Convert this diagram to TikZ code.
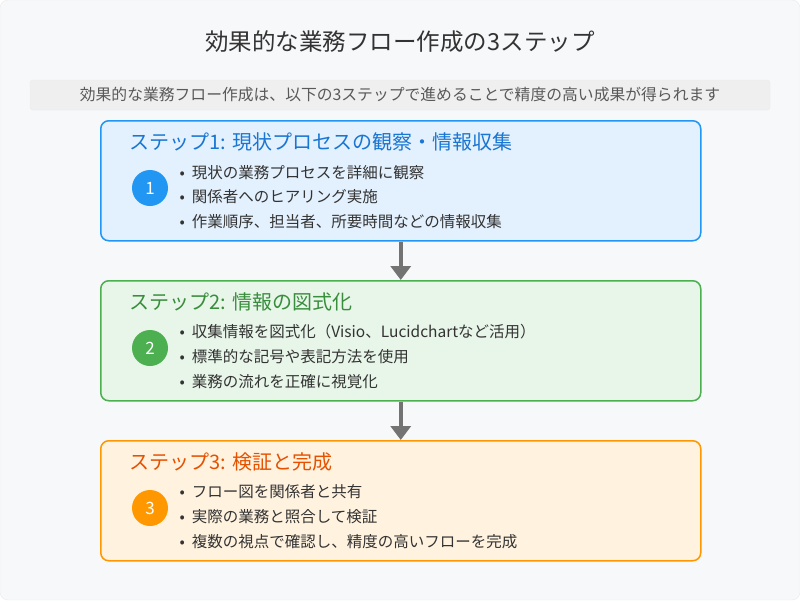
\documentclass[tikz,border=0pt]{standalone}
\usepackage{fontspec}
\setmainfont{Noto Sans CJK JP}
\usetikzlibrary{arrows.meta}
\definecolor{bgc}{HTML}{F7F8FA}
\definecolor{subc}{HTML}{EFEFEF}
\definecolor{b1f}{HTML}{E3F0FD}\definecolor{b1d}{HTML}{2196F3}\definecolor{b1t}{HTML}{1976D2}
\definecolor{b2f}{HTML}{E8F5E9}\definecolor{b2d}{HTML}{4CAF50}\definecolor{b2t}{HTML}{388E3C}
\definecolor{b3f}{HTML}{FFF3E0}\definecolor{b3d}{HTML}{FF9800}\definecolor{b3t}{HTML}{E65100}
\definecolor{txt}{HTML}{333333}
\begin{document}
\begin{tikzpicture}[x=1pt,y=-1pt,
  stepbox/.style={draw,line width=1.5pt,rounded corners=8pt,minimum width=600pt,minimum height=120pt,anchor=north west},
  ttl/.style={anchor=west,font=\fontsize{20}{22}\selectfont},
  num/.style={circle,minimum size=36pt,inner sep=0,text=white,font=\fontsize{17}{18}\selectfont},
  bl/.style={anchor=west,text=txt,font=\fontsize{15.5}{17}\selectfont},
  arr/.style={draw=gray!90!black,line width=3.5pt,-{Triangle[length=14pt,width=20pt]}}]
\useasboundingbox (0,0) rectangle (800,600);
\fill[bgc,draw=black!8,rounded corners=8pt] (0,0) rectangle (800,600);
\node[text=txt,font=\fontsize{23.5}{26}\selectfont] (title) at (400,42) {効果的な業務フロー作成の3ステップ};
\node[fill=subc,draw=black!8,rounded corners=3pt,minimum width=740pt,minimum height=30pt,text=black!65,font=\fontsize{15.8}{17}\selectfont] (sub) at (400,95) {効果的な業務フロー作成は、以下の3ステップで進めることで精度の高い成果が得られます};
\node[stepbox,fill=b1f,draw=b1d] (s1) at (100,120) {};
\node[stepbox,fill=b2f,draw=b2d] (s2) at (100,280) {};
\node[stepbox,fill=b3f,draw=b3d] (s3) at (100,440) {};
\node[ttl,text=b1t] (t1) at (126,142) {ステップ1: 現状プロセスの観察・情報収集};
\node[ttl,text=b2t] (t2) at (126,302) {ステップ2: 情報の図式化};
\node[ttl,text=b3t] (t3) at (126,462) {ステップ3: 検証と完成};
\node[num,fill=b1d] (n1) at (150,188) {1};
\node[num,fill=b2d] (n2) at (150,348) {2};
\node[num,fill=b3d] (n3) at (150,508) {3};
\node[bl] (a1) at (176,173) {•\hspace{7pt}現状の業務プロセスを詳細に観察};
\node[bl] (a2) at (176,197) {•\hspace{7pt}関係者へのヒアリング実施};
\node[bl] (a3) at (176,222) {•\hspace{7pt}作業順序、担当者、所要時間などの情報収集};
\node[bl] (c1) at (176,332) {•\hspace{7pt}収集情報を図式化（Visio、Lucidchartなど活用）};
\node[bl] (c2) at (176,357) {•\hspace{7pt}標準的な記号や表記方法を使用};
\node[bl] (c3) at (176,382) {•\hspace{7pt}業務の流れを正確に視覚化};
\node[bl] (d1) at (176,492) {•\hspace{7pt}フロー図を関係者と共有};
\node[bl] (d2) at (176,517) {•\hspace{7pt}実際の業務と照合して検証};
\node[bl] (d3) at (176,542) {•\hspace{7pt}複数の視点で確認し、精度の高いフローを完成};
\draw[arr] (s1.south) -- (s2.north);
\draw[arr] (s2.south) -- (s3.north);
\end{tikzpicture}
\end{document}
